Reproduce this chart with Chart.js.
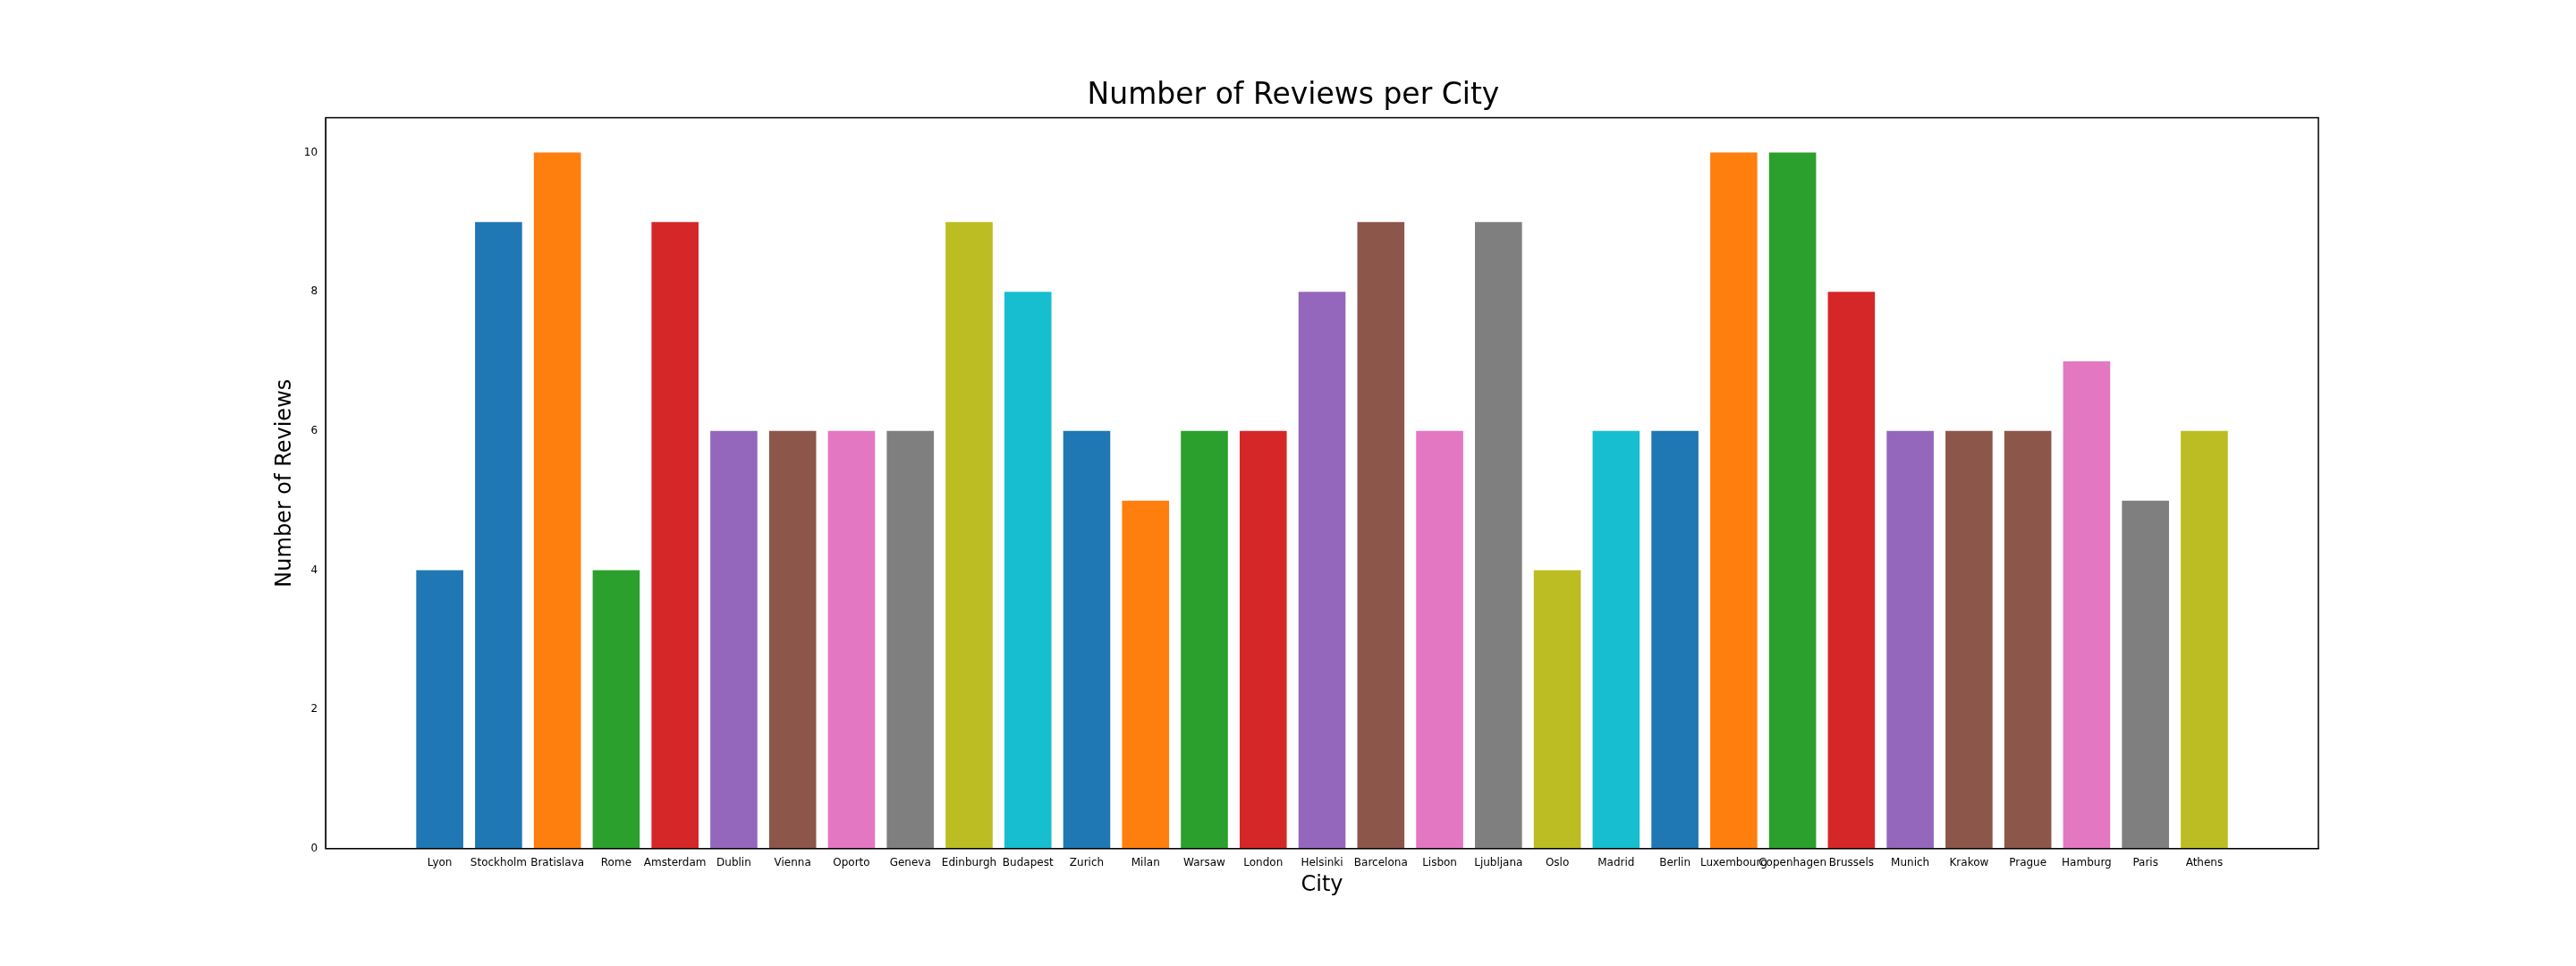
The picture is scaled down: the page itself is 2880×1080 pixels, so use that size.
<!DOCTYPE html>
<html>
<head>
<meta charset="utf-8">
<script src="https://cdn.jsdelivr.net/npm/chart.js@4"></script>
<style>
  body { margin: 0; background: #fff; }
  canvas { display: block; }
</style>
</head>
<body>
<canvas id="chart" width="2880" height="1080"></canvas>
<script>
const cities = ["Lyon", "Stockholm", "Bratislava", "Rome", "Amsterdam", "Dublin", "Vienna", "Oporto",
  "Geneva", "Edinburgh", "Budapest", "Zurich", "Milan", "Warsaw", "London", "Helsinki", "Barcelona",
  "Lisbon", "Ljubljana", "Oslo", "Madrid", "Berlin", "Luxembourg", "Copenhagen", "Brussels", "Munich",
  "Krakow", "Prague", "Hamburg", "Paris", "Athens"];
const reviews = [4, 9, 10, 4, 9, 6, 6, 6, 6, 9, 8, 6, 5, 6, 6, 8, 9, 6, 9, 4, 6, 6, 10, 10, 8, 6, 6, 6, 7, 5, 6];
const yTicks = [0, 2, 4, 6, 8, 10];

const tab10 = ["#1f77b4", "#ff7f0e", "#2ca02c", "#d62728", "#9467bd",
  "#8c564b", "#e377c2", "#7f7f7f", "#bcbd22", "#17becf"];
// colour index of each bar, as seen in the picture
const colorIdx = [0, 0, 1, 2, 3, 4, 5, 6, 7, 8, 9, 0, 1, 2, 3, 4, 5, 6, 7, 8, 9, 0, 1, 2, 3, 4, 5, 5, 6, 7, 8];

// draw the closed frame round the plot area
const framePlugin = {
  id: "frame",
  afterDraw(chart) {
    const a = chart.chartArea, ctx = chart.ctx;
    ctx.save();
    ctx.strokeStyle = "#000";
    ctx.lineWidth = 1.5;
    ctx.strokeRect(a.left, a.top, a.right - a.left, a.bottom - a.top);
    ctx.restore();
  }
};

const n = cities.length;
const margin = (n - 1 + 0.8) * 0.05;

new Chart(document.getElementById("chart"), {
  type: "bar",
  data: {
    datasets: [{
      data: reviews.map((v, i) => ({ x: i, y: v })),
      backgroundColor: colorIdx.map(c => tab10[c]),
      barPercentage: 0.8,
      categoryPercentage: 1.0
    }]
  },
  options: {
    responsive: false,
    animation: false,
    layout: { padding: { left: 300, right: 288, top: 88, bottom: 72 } },
    plugins: {
      legend: { display: false },
      tooltip: { enabled: false },
      title: {
        display: true,
        text: "Number of Reviews per City",
        color: "#000",
        font: { family: "DejaVu Sans", size: 33, weight: "normal" },
        padding: { top: 0, bottom: 4 }
      }
    },
    scales: {
      x: {
        type: "linear",
        offset: false,
        min: -0.4 - margin,
        max: n - 1 + 0.4 + margin,
        afterBuildTicks: s => { s.ticks = cities.map((c, i) => ({ value: i })); },
        ticks: {
          autoSkip: false, maxRotation: 0, color: "#000",
          font: { family: "DejaVu Sans", size: 12 },
          callback: v => cities[v] ?? ""
        },
        grid: { display: false, drawTicks: true, tickLength: 6, tickColor: "#000", offset: false },
        border: { display: true, color: "#000" },
        title: { display: true, text: "City", color: "#000", font: { family: "DejaVu Sans", size: 24 }, padding: { top: 0 } }
      },
      y: {
        min: 0,
        max: 10.5,
        afterBuildTicks: s => { s.ticks = yTicks.map(v => ({ value: v })); },
        ticks: { color: "#000", font: { family: "DejaVu Sans", size: 12 } },
        grid: { display: false, drawTicks: true, tickLength: 6, tickColor: "#000" },
        border: { display: true, color: "#000" },
        title: { display: true, text: "Number of Reviews", color: "#000", font: { family: "DejaVu Sans", size: 24 } }
      }
    }
  },
  plugins: [framePlugin]
});
</script>
</body>
</html>
